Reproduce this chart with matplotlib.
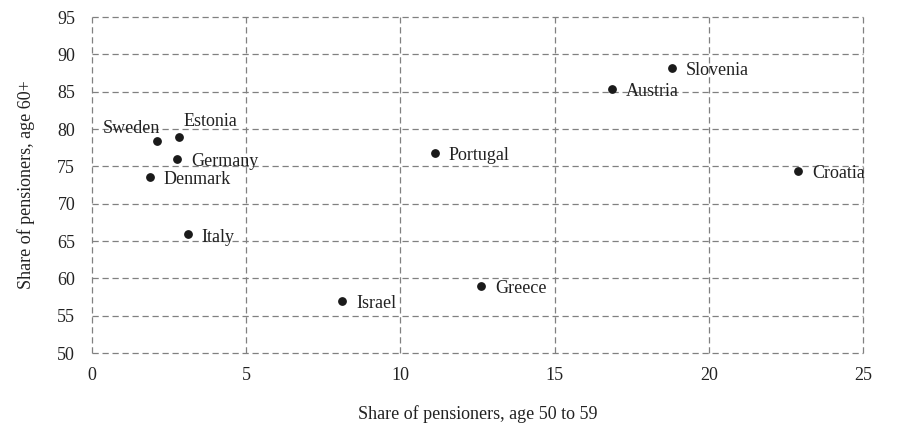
import matplotlib.pyplot as plt

plt.rcParams['font.family'] = ['Liberation Serif', 'DejaVu Serif']

countries = ['Sweden', 'Estonia', 'Germany', 'Denmark', 'Italy', 'Portugal',
             'Israel', 'Greece', 'Austria', 'Slovenia', 'Croatia']
share_50_59 = [2.11, 2.82, 2.76, 1.88, 3.11, 11.12, 8.11, 12.61, 16.86, 18.81, 22.89]
share_60_plus = [78.4, 78.9, 76.0, 73.6, 65.9, 76.8, 57.0, 59.0, 85.4, 88.2, 74.4]

# label offsets in pixels (dx, dy, ha)
offsets = {
    'Sweden': (3, 13, 'right'),
    'Estonia': (5, 16, 'left'),
}

fig = plt.figure(figsize=(9, 4.36), dpi=100)
ax = fig.add_axes([0.102, 0.19, 0.857, 0.771])

ax.scatter(share_50_59, share_60_plus, s=28, color='#1a1a1a', zorder=3)

for name, x, y in zip(countries, share_50_59, share_60_plus):
    dx, dy, ha = offsets.get(name, (14, -3, 'left'))
    ax.annotate(name, (x, y), xytext=(dx, dy), textcoords='offset pixels',
                ha=ha, va='center', fontsize=13, color='#222222')

ax.set_xlim(0, 25)
ax.set_ylim(50, 95)
ax.set_xticks(range(0, 26, 5))
ax.set_yticks(range(50, 96, 5))
ax.grid(True, linestyle=(0, (5, 3)), color='#808080', linewidth=0.9)
for gl in ax.get_xgridlines() + ax.get_ygridlines():
    gl.set_clip_on(False)
for s in ax.spines.values():
    s.set_visible(False)
ax.tick_params(length=0, labelsize=13, colors='#222222')
ax.tick_params(axis='x', pad=10)
ax.tick_params(axis='y', pad=12)
ax.set_xlabel('Share of pensioners, age 50 to 59', fontsize=13, labelpad=15, color='#222222')
ax.set_ylabel('Share of pensioners, age 60+', fontsize=13, labelpad=16, color='#222222')

fig.savefig('out.png', dpi=100)
